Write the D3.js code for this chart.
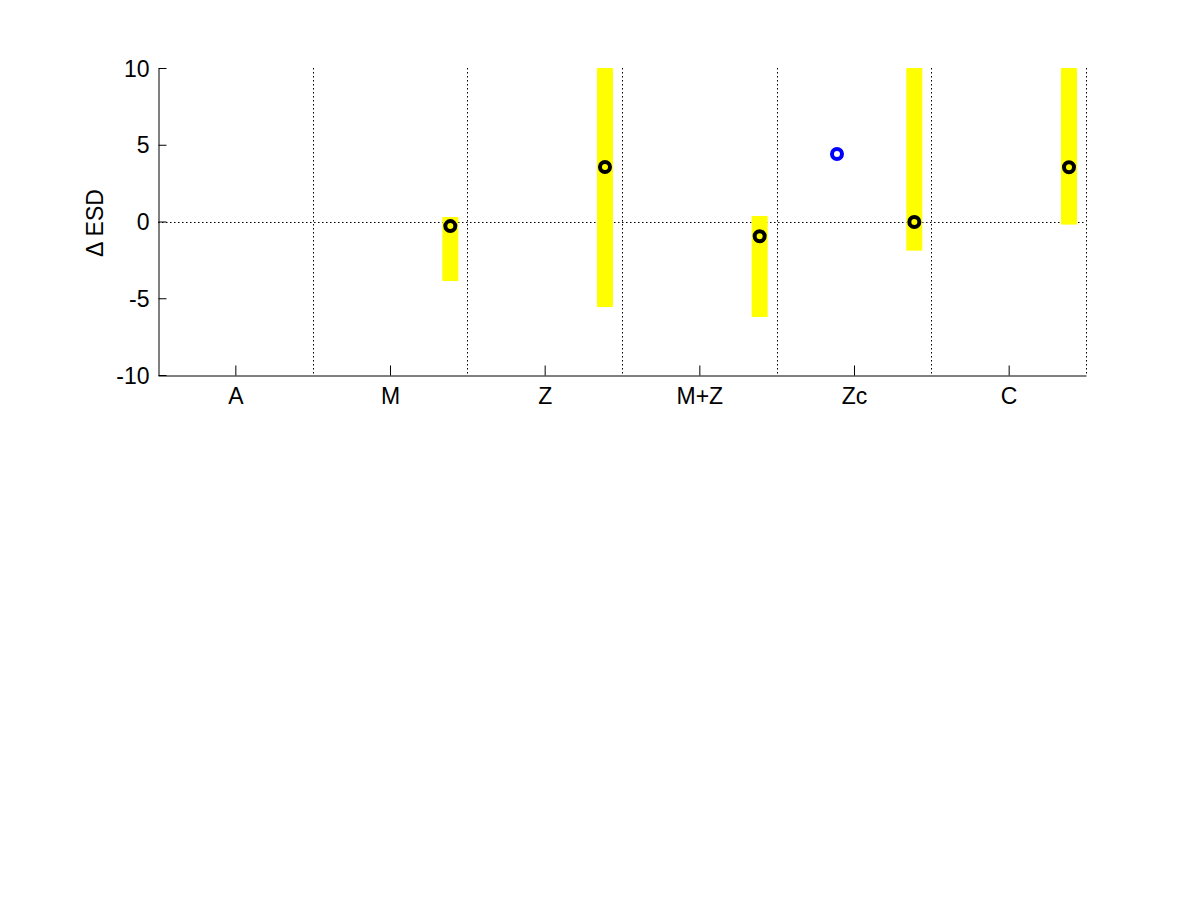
<!DOCTYPE html>
<html><head><meta charset="utf-8">
<script src="https://cdn.jsdelivr.net/npm/d3@7"></script>
<style>body{margin:0;background:#fff}</style>
</head><body>
<script>
const categories = ["A","M","Z","M+Z","Zc","C"];
const yTicks = [-10,-5,0,5,10];
// yellow range bars (category, low, high) and black circle estimates
const barCats = ["M","Z","M+Z","Zc","C"];
const barLow  = [-3.88,-5.57,-6.22,-1.9,-0.2];
const barHigh = [0.29,10,0.36,10,10];
const pointVals = [-0.3,3.55,-0.96,-0.03,3.53];
// blue circle
const blueCat = "Zc";
const blueVal = 4.4;
const barOffset = 0.39, blueOffset = -0.11;

const W=1200,H=900;
const svg=d3.select("body").append("svg").attr("width",W).attr("height",H);
const x=d3.scaleLinear().domain([0.5,6.5]).range([158,1086]);
const y=d3.scaleLinear().domain([-10,10]).range([375,68]);
const ci=c=>categories.indexOf(c)+1;
const font="Liberation Sans, Arial, Helvetica, sans-serif";
const fs=23;

// dotted grid: zero line and category boundaries
svg.append("line").attr("x1",x(0.5)).attr("x2",x(6.5)).attr("y1",Math.round(y(0))+0.5).attr("y2",Math.round(y(0))+0.5)
  .attr("stroke","#000").attr("stroke-width",1).attr("stroke-dasharray","1.5,2.5");
d3.range(1.5,6.6,1).forEach(b=>{
  svg.append("line").attr("x1",Math.round(x(b))+0.5).attr("x2",Math.round(x(b))+0.5)
    .attr("y1",y(10)).attr("y2",y(-10))
    .attr("stroke","#000").attr("stroke-width",1).attr("stroke-dasharray","1.5,2.5");
});

// bars
svg.selectAll("rect.bar").data(barCats).enter().append("rect")
  .attr("x",(c)=>x(ci(c)+barOffset)-8).attr("width",16)
  .attr("y",(c,i)=>y(barHigh[i])).attr("height",(c,i)=>y(barLow[i])-y(barHigh[i]))
  .attr("fill","#ffff00");

// points
svg.selectAll("circle.pt").data(barCats).enter().append("circle")
  .attr("cx",c=>x(ci(c)+barOffset)).attr("cy",(c,i)=>y(pointVals[i])).attr("r",5)
  .attr("fill","none").attr("stroke","#000").attr("stroke-width",4);
svg.append("circle").attr("cx",x(ci(blueCat)+blueOffset)).attr("cy",y(blueVal)).attr("r",5)
  .attr("fill","none").attr("stroke","#0000ff").attr("stroke-width",4);

// axes
const yAxis=d3.axisLeft(y).tickValues(yTicks).tickFormat(d=>String(d)).tickSizeInner(-8).tickSizeOuter(0).tickPadding(9);
const gy=svg.append("g").attr("transform","translate(158.5,0)").call(yAxis);
const xAxis=d3.axisBottom(x).tickValues(d3.range(1,7)).tickFormat(d=>categories[d-1])
  .tickSizeInner(-10).tickSizeOuter(0).tickPadding(12);
const gx=svg.append("g").attr("transform","translate(0,375.5)").call(xAxis);
[gx,gy].forEach(g=>{
  g.selectAll("path,line").attr("stroke","#000").attr("stroke-width",1);
  g.selectAll("text").attr("font-family",font).attr("font-size",fs).attr("fill","#000");
});
gy.selectAll("text").attr("dy","0.35em");
gx.selectAll("text").attr("dy","0.71em");

svg.append("text").attr("transform","translate(103,223) rotate(-90)")
  .attr("text-anchor","middle").attr("font-family",font).attr("font-size",fs).text("\u0394 ESD");
</script>
</body></html>
